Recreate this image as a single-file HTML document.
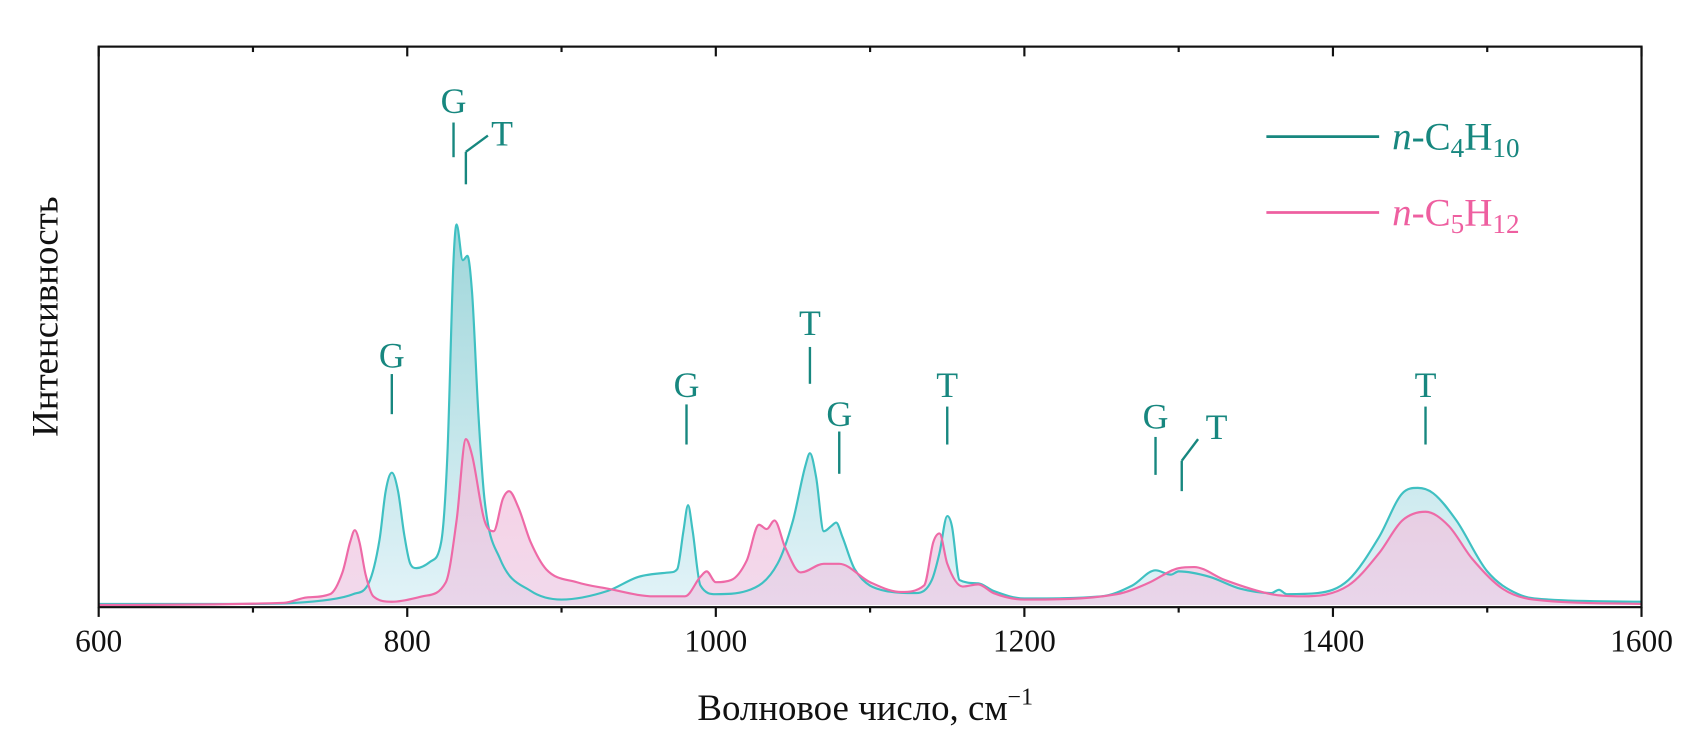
<!DOCTYPE html>
<html><head><meta charset="utf-8"><style>
html,body{margin:0;padding:0;background:#fff;}
svg{display:block;}
text{font-family:"Liberation Serif",serif;}
</style></head><body>
<svg width="1699" height="739" viewBox="0 0 1567 681.6" xmlns="http://www.w3.org/2000/svg">
<defs>
<linearGradient id="gT" x1="0" y1="0" x2="0" y2="1">
<stop offset="0" stop-color="#9fd6da"/><stop offset="1" stop-color="#e2f3f8"/></linearGradient>
<linearGradient id="gP" x1="0" y1="0" x2="0" y2="1">
<stop offset="0" stop-color="#f4bcd8"/><stop offset="1" stop-color="#ecc9e4"/></linearGradient>
</defs>
<g id="plot"></g>
<g id="lines"></g>
<g id="axes"></g>
<g id="ann"></g>
<g>
<line x1="1168" y1="126" x2="1272" y2="126" stroke="#17877f" stroke-width="2.5"/>
<text x="1284" y="138" font-size="36" fill="#17877f"><tspan font-style="italic">n</tspan>-C<tspan font-size="25" dy="7">4</tspan><tspan dy="-7">H</tspan><tspan font-size="25" dy="7">10</tspan></text>
<line x1="1168" y1="196" x2="1272" y2="196" stroke="#ee5fa0" stroke-width="2.5"/>
<text x="1284" y="208" font-size="36" fill="#ee5fa0"><tspan font-style="italic">n</tspan>-C<tspan font-size="25" dy="7">5</tspan><tspan dy="-7">H</tspan><tspan font-size="25" dy="7">12</tspan></text>
</g>
<text x="798" y="664" font-size="34" text-anchor="middle" fill="#111">Волновое число, см<tspan font-size="22" dy="-14">−1</tspan></text>
<text transform="translate(53,292) rotate(-90)" font-size="34" text-anchor="middle" fill="#111">Интенсивность</text>
</svg>
<script>
const butaneWn = [600,700,750,765,775,782,786,790,794,798,802,806,815,822,826,830,832,836,839,842,846,850,860,880,900,930,950,970,975,979,982,985,990,1000,1020,1040,1050,1058,1061,1065,1070,1075,1078,1082,1090,1110,1130,1140,1145,1150,1153,1158,1170,1180,1200,1250,1270,1285,1295,1300,1320,1340,1360,1365,1370,1390,1410,1430,1445,1455,1465,1480,1500,1520,1540,1600];
const butaneI = [1,1,5,10,20,60,105,122,105,65,38,34,40,58,138,318,351,318,322,288,178,98,43,13,5,13,26,30,33,68,92,68,18,10,13,38,78,128,140,118,68,73,76,63,33,13,11,23,48,82,73,23,20,13,6,8,18,32,28,31,26,15,11,14,10,11,23,63,103,108,103,78,31,10,5,3];
const pentaneWn = [600,720,735,750,758,763,766,769,773,778,790,810,825,832,838,842,850,856,862,866,872,880,890,910,930,960,980,990,994,1000,1010,1020,1028,1033,1038,1045,1055,1070,1080,1100,1120,1135,1141,1145,1150,1160,1170,1180,1200,1260,1280,1300,1310,1330,1360,1380,1410,1430,1445,1460,1475,1490,1510,1530,1600];
const pentaneI = [0,2,7,10,30,58,69,58,28,8,3,8,21,78,153,138,78,68,98,105,90,58,33,21,15,8,8,26,31,21,23,41,74,70,78,53,30,38,38,21,12,18,58,66,38,17,19,11,5,10,20,34,35,23,10,8,18,48,78,86,73,43,15,5,1];
const xTicks = [600,800,1000,1200,1400,1600];
const xMinor = [700,900,1100,1300,1500];
const annotations = [
 {t:'G',wn:790,ly:327,y1:345,y2:382},
 {t:'G',wn:830,ly:92,y1:113,y2:145},
 {t:'T',wn:838,ly:122,y1:170,y2:140,bend:[450,125],lx:463},
 {t:'G',wn:981,ly:354,y1:373,y2:410},
 {t:'T',wn:1061,ly:297,y1:320,y2:354},
 {t:'G',wn:1080,ly:381,y1:398,y2:437},
 {t:'T',wn:1150,ly:354,y1:375,y2:410},
 {t:'G',wn:1285,ly:383,y1:403,y2:438},
 {t:'T',wn:1302,ly:393,y1:453,y2:425,bend:[1105,405],lx:1122},
 {t:'T',wn:1460,ly:354,y1:375,y2:410}
];
const X0=91,X1=1514,YB=558,YT=43,AX=560;
const xs = w => X0 + (w-600)/1000*(X1-X0);
const ys = v => YB - v/515*(YB-YT);
const NS='http://www.w3.org/2000/svg';
function mk(tag,attrs,parent){const e=document.createElementNS(NS,tag);for(const k in attrs)e.setAttribute(k,attrs[k]);parent.appendChild(e);return e;}
function smooth(px,py){
  const n=px.length,d=[],m=new Array(n);
  for(let i=0;i<n-1;i++)d.push((py[i+1]-py[i])/(px[i+1]-px[i]));
  m[0]=d[0];m[n-1]=d[n-2];
  for(let i=1;i<n-1;i++){m[i]=(d[i-1]*d[i]<=0)?0:(d[i-1]+d[i])/2;}
  for(let i=0;i<n-1;i++){if(d[i]===0){m[i]=0;m[i+1]=0;continue;}const a=m[i]/d[i],b=m[i+1]/d[i],s=a*a+b*b;if(s>9){const t=3/Math.sqrt(s);m[i]=t*a*d[i];m[i+1]=t*b*d[i];}}
  let p='M'+px[0].toFixed(1)+','+py[0].toFixed(1);
  for(let i=0;i<n-1;i++){const h=(px[i+1]-px[i])/3;
    p+=' C'+(px[i]+h).toFixed(1)+','+(py[i]+m[i]*h).toFixed(1)+' '+(px[i+1]-h).toFixed(1)+','+(py[i+1]-m[i+1]*h).toFixed(1)+' '+px[i+1].toFixed(1)+','+py[i+1].toFixed(1);}
  return p;
}
const plot=document.getElementById('plot');
const linesG=document.getElementById('lines');
function series(wn,I,fill,stroke,name,op){
  const d=smooth(wn.map(xs),I.map(ys));
  const a=mk('path',{d:d+' L'+xs(wn[wn.length-1])+','+YB+' L'+xs(wn[0])+','+YB+' Z',fill:fill,'fill-opacity':op},plot);
  
  
  const l=mk('path',{d:d,fill:'none',stroke:stroke,'stroke-width':2,'stroke-linejoin':'round'},linesG);
  
  
}
series(butaneWn,butaneI,'url(#gT)','#3fc0c2','butane-series',1);
series(pentaneWn,pentaneI,'url(#gP)','#ee6aa7','pentane-series',0.7);
const axes=document.getElementById('axes');
const frame=mk('rect',{x:X0,y:YT,width:X1-X0,height:AX-YT,fill:'none',stroke:'#111','stroke-width':2},axes);


xTicks.forEach(v=>{
  const x=xs(v);
  const t=mk('line',{x1:x,y1:AX,x2:x,y2:AX+9,stroke:'#111','stroke-width':2},axes);
  
  
  const tt=mk('line',{x1:x,y1:YT,x2:x,y2:YT+9,stroke:'#111','stroke-width':2},axes);
  
  
  const lb=mk('text',{x:x,y:AX+41,'font-size':29,'text-anchor':'middle',fill:'#111'},axes);
  lb.textContent=v;
  
  
});
xMinor.forEach(v=>{
  const x=xs(v);
  const t=mk('line',{x1:x,y1:AX,x2:x,y2:AX+5,stroke:'#111','stroke-width':2},axes);
  
  
  const tt=mk('line',{x1:x,y1:YT,x2:x,y2:YT+5,stroke:'#111','stroke-width':2},axes);
  
  
});
const ann=document.getElementById('ann');
annotations.forEach(a=>{
  const x=xs(a.wn);
  const ln=mk('line',{x1:x,y1:a.y1,x2:x,y2:a.y2,stroke:'#17877f','stroke-width':2.2},ann);
  
  
  let lx=x;
  if(a.bend){
    const b=mk('line',{x1:x,y1:a.y2,x2:a.bend[0],y2:a.bend[1],stroke:'#17877f','stroke-width':2.2},ann);
    
    
    lx=a.lx;
  }
  const t=mk('text',{x:lx,y:a.ly+12,'font-size':33,'text-anchor':'middle',fill:'#17877f'},ann);
  t.textContent=a.t;
  
  
});
</script>
</body></html>
